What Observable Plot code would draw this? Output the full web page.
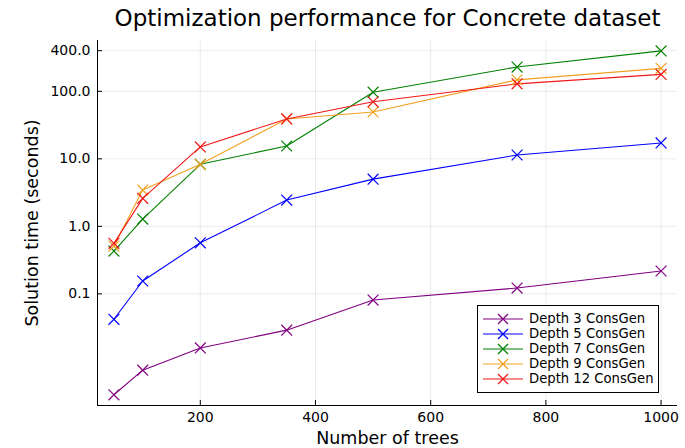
<!DOCTYPE html>
<html><head><meta charset="utf-8">
<script src="https://cdn.jsdelivr.net/npm/d3@7"></script>
<script src="https://cdn.jsdelivr.net/npm/@observablehq/plot@0.6"></script>
<style>
body{margin:0;background:#fff;font-family:"DejaVu Sans",sans-serif;}
#wrap{position:relative;width:685px;height:448px;overflow:hidden;}
#legend{position:absolute;left:477px;top:305px;width:182px;height:88px;border:1px solid #000;box-sizing:border-box;background:#fff;font-size:13.2px;color:#000;padding-top:5px;}
#legend .row{display:flex;align-items:center;height:15px;white-space:nowrap;}
#legend svg{margin-left:5px;margin-right:6px;}
</style></head><body><div id="wrap"></div>
<script>
const trees = [50, 100, 200, 350, 500, 750, 1000];
const seriesNames = ["Depth 3 ConsGen", "Depth 5 ConsGen", "Depth 7 ConsGen", "Depth 9 ConsGen", "Depth 12 ConsGen"];
const depth3 = [0.0032, 0.0074, 0.0158, 0.029, 0.081, 0.122, 0.218];
const depth5 = [0.042, 0.155, 0.57, 2.45, 5.0, 11.4, 17.2];
const depth7 = [0.43, 1.28, 8.3, 15.5, 97, 229, 397];
const depth9 = [0.51, 3.45, 8.3, 39, 49.5, 148, 219];
const depth12 = [0.56, 2.6, 15, 39, 70, 129, 178];
const colors = ["#800080", "#0000ff", "#008000", "#f0a020", "#f01818"];
const xTicks = [200, 400, 600, 800, 1000];
const yTicks = [0.1, 1, 10, 100, 400];
const xDomain = [21.5, 1028.5];
const yDomain = [0.00222, 566];
const title = "Optimization performance for Concrete dataset";
const xLabel = "Number of trees";
const yLabel = "Solution time (seconds)";

const allSeries = [depth3, depth5, depth7, depth9, depth12];
const data = [];
allSeries.forEach((vals, i) => vals.forEach((v, j) => data.push({series: seriesNames[i], trees: trees[j], time: v})));

const W = 685, H = 448, mL = 97, mR = 8, mT = 40, mB = 43;
const fw = W - mL - mR, fh = H - mT - mB;

const chart = Plot.plot({
  width: W, height: H,
  marginLeft: mL, marginRight: mR, marginTop: mT, marginBottom: mB,
  style: {fontFamily: "DejaVu Sans, sans-serif", fontSize: "14px", background: "#fff", color: "#000", overflow: "visible"},
  x: {domain: xDomain, label: null, axis: null},
  y: {type: "log", domain: yDomain, label: null, axis: null},
  color: {domain: seriesNames, range: colors},
  marks: [
    Plot.ruleX(xTicks, {x: d => d, stroke: "#000", strokeOpacity: 0.08}),
    Plot.ruleY(yTicks, {y: d => d, stroke: "#000", strokeOpacity: 0.08}),
    Plot.line(data, {x: "trees", y: "time", z: "series", stroke: "series", strokeWidth: 1.1}),
    Plot.dot(data, {x: "trees", y: "time", stroke: "series", symbol: "times", r: 5, strokeWidth: 1.2}),
    Plot.ruleX([xDomain[0]], {stroke: "#000", strokeWidth: 1}),
    Plot.ruleY([yDomain[0]], {stroke: "#000", strokeWidth: 1}),
    Plot.tickX(xTicks, {x: d => d, insetTop: fh - 5, stroke: "#000"}),
    Plot.tickY(yTicks, {y: d => d, insetRight: fw - 5, stroke: "#000"}),
    Plot.text(xTicks, {x: d => d, text: d => String(d), frameAnchor: "bottom", lineAnchor: "top", dy: 7, fontSize: 14}),
    Plot.text(yTicks, {y: d => d, text: d => d.toFixed(1), frameAnchor: "left", textAnchor: "end", dx: -7, fontSize: 14}),
    Plot.text([title], {frameAnchor: "top", lineAnchor: "middle", dy: -22, fontSize: 23}),
    Plot.text([xLabel], {frameAnchor: "bottom", lineAnchor: "middle", dy: 33, fontSize: 17.5}),
    Plot.text([yLabel], {frameAnchor: "left", textAnchor: "middle", lineAnchor: "middle", dx: -65, rotate: -90, fontSize: 17.5})
  ]
});
const wrap = document.getElementById("wrap");
wrap.appendChild(chart);

const legend = document.createElement("div");
legend.id = "legend";
seriesNames.forEach((name, i) => {
  const row = document.createElement("div");
  row.className = "row";
  row.innerHTML = `<svg width="40" height="14"><line x1="0" y1="7" x2="40" y2="7" stroke="${colors[i]}" stroke-width="1.2"/><path d="M15,2L25,12M25,2L15,12" stroke="${colors[i]}" stroke-width="1.3"/></svg><span>${name}</span>`;
  legend.appendChild(row);
});
wrap.appendChild(legend);
</script>
</body></html>
